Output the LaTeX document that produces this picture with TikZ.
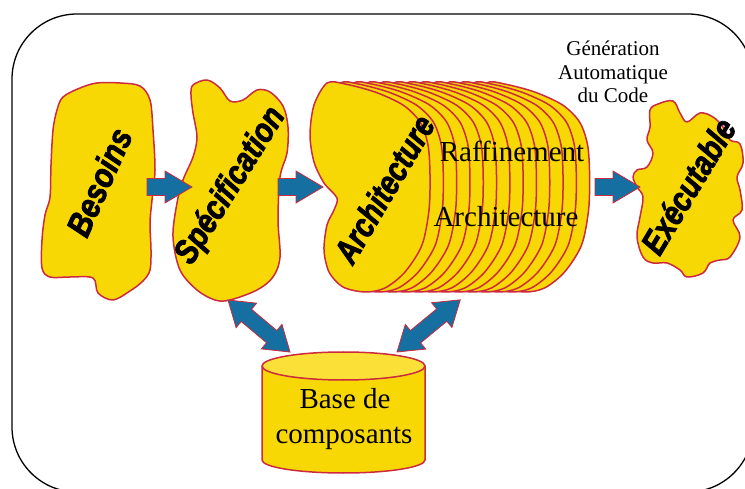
\documentclass[tikz,border=0pt]{standalone}
\usepackage{fontspec}
\setmainfont{Liberation Serif}
\newfontfamily\heavy[FakeBold=2.5]{Liberation Sans Bold Italic}
\definecolor{blobyellow}{HTML}{F8D804}
\definecolor{topyellow}{HTML}{FBE137}
\definecolor{blobred}{HTML}{CC2A3E}
\definecolor{arrblue}{HTML}{156FA0}
\tikzset{
  blob/.style={fill=blobyellow, draw=blobred, line width=1.5pt, line join=round},
  blockarr/.style={fill=arrblue, draw=blobred, line width=0.8pt, line join=miter},
  lbl/.style={font=\heavy\fontsize{34}{34}\selectfont, inner sep=0pt},
  sertxt/.style={font=\fontsize{29}{34}\selectfont, inner sep=0pt, anchor=base},
  gentxt/.style={font=\fontsize{21}{23}\selectfont, inner sep=0pt, anchor=base}
}
\begin{document}
\begin{tikzpicture}[x=1pt,y=1pt]
\useasboundingbox (0,0) rectangle (745,-489);
\clip (0,0) rectangle (745,-489);
% frame
\draw[line width=1.3pt, rounded corners=65pt] (12,-14) rectangle (753,-492);

% Besoins blob
\draw[blob] plot[smooth cycle, tension=0.55] coordinates {
 (63,-97) (80,-88) (97,-83) (120,-83) (140,-86) (150,-100) (153,-130) (155,-170)
 (152,-200) (150,-223) (151,-250) (150,-270) (143,-281) (130,-291) (113,-300)
 (98,-293) (93,-278) (70,-277) (50,-277) (42,-268) (42,-240) (45,-215) (50,-197)
 (51,-165) (53,-130) (57,-110)};
\node[lbl, rotate=66, xscale=0.86] (besoins) at (99,-182) {Besoins};

% Specification blob
\draw[blob] plot[smooth cycle, tension=0.55] coordinates {
 (193,-85) (207,-80) (220,-88) (230,-101) (243,-100) (257,-90) (270,-92) (283,-106)
 (288,-127) (287,-153) (280,-177) (278,-220) (280,-257) (273,-277) (257,-290)
 (230,-300) (215,-300) (197,-290) (180,-270) (173,-237) (177,-203) (183,-180)
 (193,-157) (197,-137) (193,-113) (191,-95)};
\node[lbl, rotate=58, xscale=0.84] (spec) at (231,-186) {Spécification};

% Architecture stack
\foreach \k in {12,11,...,0}{
 \begin{scope}[xshift=\k*13.3pt]
 \draw[blob] plot[smooth cycle, tension=0.5] coordinates {
  (327,-83) (345,-84) (375,-92) (403,-105) (420,-122) (428,-145) (430,-175)
  (429,-210) (422,-245) (405,-272) (385,-288) (365,-292) (343,-287) (329,-272)
  (324,-250) (327,-225) (334,-210) (337,-198) (324,-183) (314,-162) (310,-135)
  (314,-105)};
 \end{scope}
}
\node[lbl, rotate=59.5, xscale=0.82] (archi) at (384,-189) {Architecture};
\node[sertxt] (raff) at (512,-162) {Raffinement};
\node[sertxt] (archtxt) at (506,-227) {Architecture};

% Executable blob
\draw[blob] plot[smooth cycle, tension=0.6] coordinates {
 (650,-110) (658,-104) (673,-101) (680,-113) (687,-122) (700,-113) (713,-117)
 (723,-127) (730,-140) (740,-144) (743,-163) (737,-177) (740,-190) (742,-210)
 (733,-220) (740,-237) (730,-257) (720,-260) (710,-263) (703,-273) (687,-277)
 (680,-270) (667,-263) (653,-263) (643,-257) (637,-237) (640,-217) (643,-197)
 (637,-187) (633,-177) (637,-170) (647,-167) (653,-153) (647,-140) (650,-127)};
\node[lbl, rotate=59, xscale=0.84] (exe) at (688,-186) {Exécutable};

% Generation text
\node[gentxt] (gen1) at (613,-56) {Génération};
\node[gentxt] (gen2) at (613,-80) {Automatique};
\node[gentxt] (gen3) at (613,-103) {du Code};

% Cylinder
\coordinate (cyl) at (343.5,-366);
\draw[blob] (262,-366) -- (262,-460)
  arc[start angle=180, end angle=360, x radius=81.5, y radius=13] -- (425,-366) -- cycle;
\draw[blob, fill=topyellow] (cyl) ellipse[x radius=81.5, y radius=14];
\node[sertxt] (base1) at (345,-408) {Base de};
\node[sertxt] (base2) at (344,-443) {composants};

% block arrows (right)
\foreach \sx in {147,278,595}{
 \begin{scope}[shift={(\sx,-187)}]
 \draw[blockarr] (0,-8.5) -- (18,-8.5) -- (18,-16) -- (45,0) -- (18,16) -- (18,8.5) -- (0,8.5) -- cycle;
 \end{scope}
}
% double arrows
\coordinate (dlA) at (228,-300);
\coordinate (drA) at (397,-352);
\begin{scope}[shift={(dlA)}, rotate=-40]
 \draw[blockarr] (0,0) -- (24,16) -- (24,8) -- (57,8) -- (57,16) -- (81,0) -- (57,-16) -- (57,-8) -- (24,-8) -- (24,-16) -- cycle;
\end{scope}
\begin{scope}[shift={(drA)}, rotate=39.5]
 \draw[blockarr] (0,0) -- (24,16) -- (24,8) -- (58,8) -- (58,16) -- (82,0) -- (58,-16) -- (58,-8) -- (24,-8) -- (24,-16) -- cycle;
\end{scope}
\end{tikzpicture}
\end{document}
